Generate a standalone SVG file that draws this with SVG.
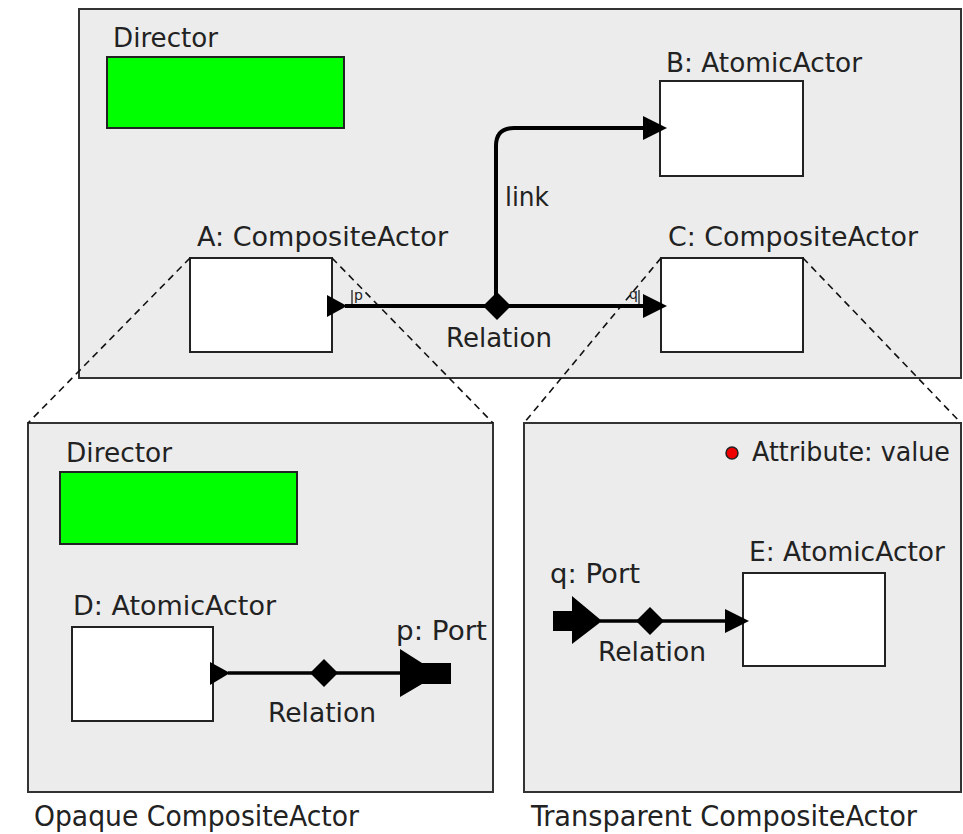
<svg xmlns="http://www.w3.org/2000/svg" width="963" height="834" viewBox="0 0 963 834">
  <style>
    .frame { fill: #ececec; stroke: #333; stroke-width: 2; }
    .actor { fill: #ffffff; stroke: #222; stroke-width: 2; }
    .director { fill: #00ff00; stroke: #222; stroke-width: 2; }
    .lbl { font-family: "DejaVu Sans", "Noto Sans", sans-serif; font-size: 26px; fill: #222; }
    .cap { font-family: "DejaVu Sans Condensed", "DejaVu Sans", sans-serif; font-size: 29px; fill: #222; }
    .small { font-family: "DejaVu Sans", sans-serif; font-size: 14px; fill: #222; }
    .wire { fill: none; stroke: #000; stroke-width: 4; }
    .wire-thin { fill: none; stroke: #000; stroke-width: 3.5; }
    .zoom { fill: none; stroke: #111; stroke-width: 1.6; stroke-dasharray: 7 5; }
    .tick { stroke: #222; stroke-width: 1.3; }
    .solid { fill: #000; }
  </style>

  <!-- outer model -->
  <g id="top-model">
    <rect class="frame" x="79" y="9" width="882" height="369"/>
  </g>

  <g id="top-director">
    <text class="lbl" x="113" y="47" textLength="105" lengthAdjust="spacingAndGlyphs">Director</text>
    <rect class="director" x="107" y="57" width="237" height="71"/>
  </g>

  <g id="actor-B">
    <text class="lbl" x="666" y="72" textLength="196" lengthAdjust="spacingAndGlyphs">B: AtomicActor</text>
    <rect class="actor" x="660" y="81" width="143" height="95"/>
  </g>

  <g id="actor-A">
    <text class="lbl" x="197" y="246" textLength="251" lengthAdjust="spacingAndGlyphs">A: CompositeActor</text>
    <rect class="actor" x="190" y="258" width="142" height="94"/>
    <polygon class="solid" points="327,295 347,306 327,317"/>
    <line class="tick" x1="352" y1="290" x2="352" y2="305"/>
    <text class="small" x="354" y="300">p</text>
  </g>

  <g id="actor-C">
    <text class="lbl" x="668" y="246" textLength="250" lengthAdjust="spacingAndGlyphs">C: CompositeActor</text>
    <rect class="actor" x="661" y="258" width="142" height="94"/>
    <line class="tick" x1="639" y1="290" x2="639" y2="305"/>
    <text class="small" x="629" y="299">q</text>
  </g>

  <!-- lower-left: opaque composite -->
  <g id="opaque-composite">
    <rect class="frame" x="28" y="423" width="465" height="369"/>
    <text class="cap" x="34" y="826" textLength="325" lengthAdjust="spacingAndGlyphs">Opaque CompositeActor</text>
  </g>

  <g id="inner-director">
    <text class="lbl" x="66" y="462" textLength="106" lengthAdjust="spacingAndGlyphs">Director</text>
    <rect class="director" x="60" y="472" width="237" height="72"/>
  </g>

  <g id="actor-D">
    <text class="lbl" x="73" y="615" textLength="203" lengthAdjust="spacingAndGlyphs">D: AtomicActor</text>
    <rect class="actor" x="72" y="627" width="141" height="94"/>
    <polygon class="solid" points="210,662 230,673 210,685"/>
  </g>

  <g id="port-p">
    <text class="lbl" x="396" y="640" textLength="91" lengthAdjust="spacingAndGlyphs">p: Port</text>
    <polygon class="solid" points="400,649 422,663 451,663 451,684 422,684 400,697"/>
  </g>

  <!-- lower-right: transparent composite -->
  <g id="transparent-composite">
    <rect class="frame" x="524" y="423" width="437" height="369"/>
    <text class="cap" x="531" y="826" textLength="386" lengthAdjust="spacingAndGlyphs">Transparent CompositeActor</text>
  </g>

  <g id="attribute">
    <circle cx="732" cy="453" r="6" fill="#ee0000" stroke="#222" stroke-width="1.5"/>
    <text class="lbl" x="752" y="461" textLength="198" lengthAdjust="spacingAndGlyphs">Attribute: value</text>
  </g>

  <g id="actor-E">
    <text class="lbl" x="749" y="561" textLength="196" lengthAdjust="spacingAndGlyphs">E: AtomicActor</text>
    <rect class="actor" x="743" y="573" width="142" height="93"/>
  </g>

  <g id="port-q">
    <text class="lbl" x="550" y="583" textLength="90" lengthAdjust="spacingAndGlyphs">q: Port</text>
    <polygon class="solid" points="553,611 572,611 572,596 602,621 572,644 572,631 553,631"/>
  </g>

  <!-- connectors -->
  <g id="connectors">
    <!-- zoom guides from A and C to their expansions -->
    <line class="zoom" x1="190" y1="258" x2="28" y2="423"/>
    <line class="zoom" x1="332" y1="258" x2="493" y2="423"/>
    <line class="zoom" x1="661" y1="258" x2="524" y2="423"/>
    <line class="zoom" x1="803" y1="258" x2="961" y2="423"/>

    <!-- top relation -->
    <line class="wire" x1="345" y1="306" x2="645" y2="306"/>
    <polygon class="solid" points="643,294 667,306 643,318"/>
    <path class="wire" d="M496,306 V146 Q496,128 514,128 H645"/>
    <polygon class="solid" points="643,116 667,128 643,140"/>
    <polygon class="solid" points="497,292 511,306 497,320 483,306"/>
    <text class="lbl" x="505" y="206" textLength="44" lengthAdjust="spacingAndGlyphs">link</text>
    <text class="lbl" x="446" y="347" textLength="106" lengthAdjust="spacingAndGlyphs">Relation</text>

    <!-- opaque inner relation -->
    <line class="wire-thin" x1="228" y1="673" x2="402" y2="673"/>
    <polygon class="solid" points="324,659 338,673 324,687 310,673"/>
    <text class="lbl" x="268" y="722" textLength="108" lengthAdjust="spacingAndGlyphs">Relation</text>

    <!-- transparent inner relation -->
    <line class="wire-thin" x1="600" y1="621" x2="728" y2="621"/>
    <polygon class="solid" points="725,609 749,621 725,633"/>
    <polygon class="solid" points="650,607 664,621 650,635 636,621"/>
    <text class="lbl" x="598" y="661" textLength="108" lengthAdjust="spacingAndGlyphs">Relation</text>
  </g>
</svg>
